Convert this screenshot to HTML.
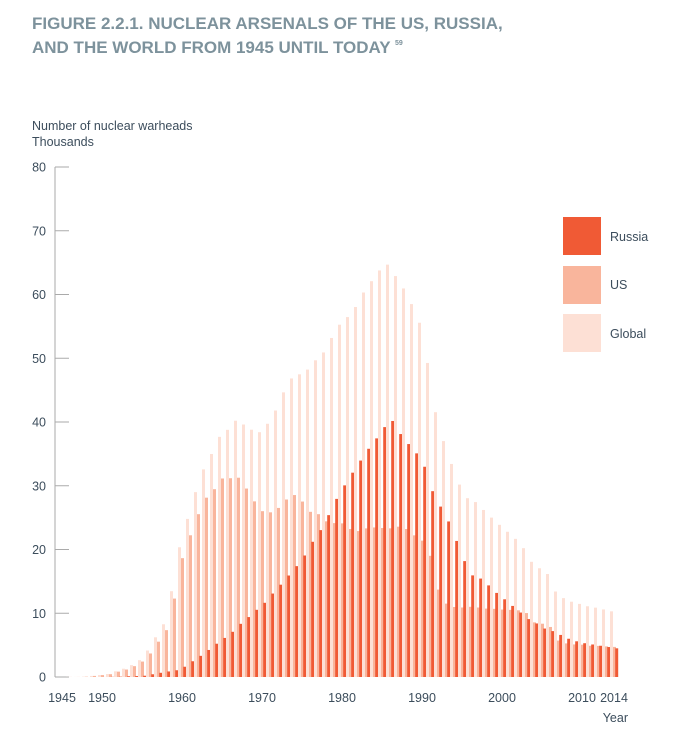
<!DOCTYPE html>
<html><head><meta charset="utf-8"><style>
body{margin:0;background:#fff;}
svg text{font-family:"Liberation Sans",sans-serif;}
</style></head><body>
<svg id="chart" width="692" height="745" xmlns="http://www.w3.org/2000/svg">
<text x="32" y="29" font-size="17" font-weight="bold" fill="#7d929c">FIGURE 2.2.1. NUCLEAR ARSENALS OF THE US, RUSSIA,</text>
<text x="32" y="53" font-size="17" font-weight="bold" fill="#7d929c">AND THE WORLD FROM 1945 UNTIL TODAY <tspan font-size="7" dy="-8">59</tspan></text>
<text x="32" y="130" font-size="12.5" fill="#3c4d5c">Number of nuclear warheads</text>
<text x="32" y="146" font-size="12.5" fill="#3c4d5c">Thousands</text>
<text x="628" y="722" font-size="12.5" fill="#3c4d5c" text-anchor="end">Year</text>
<g id="axes"></g>
<g id="bars"></g>
<g>
<rect x="563" y="217" width="38" height="38" fill="#f05a35"/>
<text x="610" y="241" font-size="12.5" fill="#3c4d5c">Russia</text>
<rect x="563" y="266" width="38" height="38" fill="#f9b59c"/>
<text x="610" y="289" font-size="12.5" fill="#3c4d5c">US</text>
<rect x="563" y="314" width="38" height="38" fill="#fde0d5"/>
<text x="610" y="338" font-size="12.5" fill="#3c4d5c">Global</text>
</g>
</svg>
<script>
const years=[];for(let y=1945;y<=2014;y++)years.push(y);
const usValues=[0,0.01,0.01,0.05,0.17,0.3,0.44,0.84,1.17,1.7,2.42,3.69,5.54,7.35,12.3,18.64,22.23,25.54,28.13,29.46,31.14,31.18,31.26,29.56,27.55,26.01,25.83,26.52,27.84,28.54,27.52,25.91,25.54,24.42,24.14,24.1,23.21,22.89,23.31,23.46,23.37,23.32,23.58,23.21,22.22,21.39,19.01,13.71,11.51,10.98,10.9,11.01,10.9,10.73,10.69,10.58,10.53,10.46,10.03,8.57,8.36,7.85,5.71,5.27,5.11,5.07,4.9,4.88,4.8,4.72];
const russiaValues=[0,0,0,0,0.001,0.005,0.025,0.05,0.12,0.15,0.2,0.43,0.66,0.87,1.06,1.61,2.47,3.32,4.24,5.22,6.13,7.09,8.34,9.4,10.54,11.64,13.09,14.48,15.92,17.39,19.06,21.21,23.04,25.39,27.94,30.06,32.05,33.95,35.8,37.43,39.2,40.16,38.11,36.54,35.08,32.98,29.15,26.73,24.4,21.34,18.18,15.94,15.44,14.37,13.19,12.19,11.15,10.11,9.08,8.4,7.6,7.2,6.6,6.0,5.6,5.3,5.1,4.9,4.7,4.5];
const globalValues=[0,0.01,0.01,0.05,0.17,0.31,0.47,0.89,1.3,1.86,2.64,4.15,6.23,8.27,13.46,20.35,24.8,29.0,32.57,34.98,37.67,38.77,40.2,39.61,38.79,38.4,39.72,41.8,44.65,46.83,47.48,48.22,49.68,50.91,53.18,55.26,56.46,58.04,60.31,62.09,63.77,64.68,62.89,60.95,58.5,55.57,49.26,41.54,37.01,33.42,30.18,28.05,27.44,26.2,25.0,23.87,22.78,21.67,20.21,18.07,17.06,16.15,13.41,12.37,11.81,11.47,11.1,10.88,10.6,10.3];
const yTicks=[0,10,20,30,40,50,60,70,80];
const xTickYears=[1945,1950,1960,1970,1980,1990,2000,2010,2014];
const NS="http://www.w3.org/2000/svg";
const y0=677,yTop=167,yMax=80;
function yScale(v){return y0-(v/yMax)*(y0-yTop);}
function xScale(yr){return 62+(yr-1945)*(552/69);}
function mk(tag,attrs,parent){const e=document.createElementNS(NS,tag);for(const k in attrs)e.setAttribute(k,attrs[k]);parent.appendChild(e);return e;}
const axes=document.getElementById('axes'),bars=document.getElementById('bars');
const axisLine=mk('line',{x1:55,y1:yTop,x2:55,y2:y0,stroke:'#aaa','stroke-width':1},axes);


yTicks.forEach(t=>{
 const yy=yScale(t);
 const tk=mk('line',{x1:55,y1:yy,x2:69,y2:yy,stroke:'#aaa','stroke-width':1},axes);
 
 
 const lb=mk('text',{x:46,y:yy+4.5,'font-size':12.5,fill:'#3c4d5c','text-anchor':'end'},axes);
 lb.textContent=t;
 
 
});
xTickYears.forEach(yr=>{
 const lb=mk('text',{x:xScale(yr),y:702,'font-size':12.5,fill:'#3c4d5c','text-anchor':'middle'},axes);
 lb.textContent=yr;
 
 
});
years.forEach((yr,i)=>{
 const c=xScale(yr);
 const series=[[globalValues[i],'#fde0d5',c-4,'global'],[usValues[i],'#f9b59c',c-1,'us'],[russiaValues[i],'#f05a35',c+1.2,'russia']];
 series.forEach(s=>{
  const top=yScale(s[0]);
  const r=mk('rect',{x:s[2],y:top,width:3,height:Math.max(0,y0-top),fill:s[1]},bars);
  
  
 });
});
</script>
</body></html>
